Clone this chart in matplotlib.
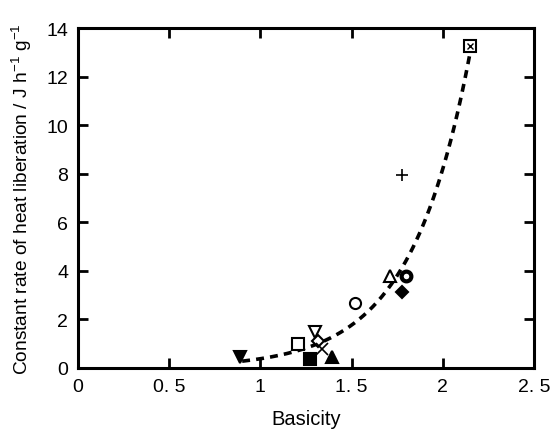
import numpy as np
import matplotlib
matplotlib.use("Agg")
import matplotlib.pyplot as plt

plt.rcParams['font.family'] = ['Liberation Sans', 'DejaVu Sans']

# data points (basicity, rate)
basicity = [0.888, 1.206, 1.299, 1.316, 1.338, 1.272, 1.393, 1.519, 1.711, 1.798, 1.776, 1.776, 2.149]
rate =     [0.45, 0.99, 1.48, 1.11, 0.78, 0.37, 0.45, 2.68, 3.79, 3.79, 3.13, 7.95, 13.26]
markers =  ['v', 's', 'v', 'D', 'x', 's', '^', 'o', '^', 'o', 'D', '+', 's']
filled =   [True, False, False, False, False, True, True, False, False, False, True, False, False]
thick =    [False, False, False, False, False, False, False, False, False, True, False, False, False]

# exponential fit parameters: y = a * exp(b * x)
fit_a = 0.01767
fit_b = 3.07
fit_range = [0.9, 2.15]

xticks = [0, 0.5, 1, 1.5, 2, 2.5]
xticklabels = ['0', '0. 5', '1', '1. 5', '2', '2. 5']
yticks = [0, 2, 4, 6, 8, 10, 12, 14]

fig = plt.figure(figsize=(5.5, 4.31), dpi=100)
ax = fig.add_axes([0.1418, 0.1439, 0.8291, 0.7888])

xf = np.linspace(fit_range[0], fit_range[1], 200)
ax.plot(xf, fit_a * np.exp(fit_b * xf), ls=(0, (2.2, 1.7)), color='black', lw=2.6, zorder=2)

for x, y, m, f, t in zip(basicity, rate, markers, filled, thick):
    size = 6 if m == 'D' else 8
    if m in ('x', '+'):
        ax.plot(x, y, marker=m, color='black', ms=9, mew=1.2, ls='none', zorder=3)
    else:
        ax.plot(x, y, marker=m, ms=(7 if t else size), mew=(3 if t else 1.5), ls='none',
                mfc='black' if f else 'white', mec='black', zorder=3)
# box with diagonal for the top point
ax.plot(2.149, 13.26, marker='x', ms=5, mew=1.0, color='black', zorder=4)

ax.set_xlim(0, 2.5)
ax.set_ylim(0, 14)
ax.set_xticks(xticks)
ax.set_xticklabels(xticklabels)
ax.set_yticks(yticks)
ax.tick_params(direction='in', length=7, width=2, labelsize=14, top=True, right=True, pad=7)
for s in ax.spines.values():
    s.set_linewidth(2.2)
ax.set_xlabel('Basicity', fontsize=14.5, labelpad=10)
ax.set_ylabel('Constant rate of heat liberation / J h$^{\\mathregular{-1}}$ g$^{\\mathregular{-1}}$',
              fontsize=13.8, labelpad=9)

fig.savefig('out.png', dpi=100)
